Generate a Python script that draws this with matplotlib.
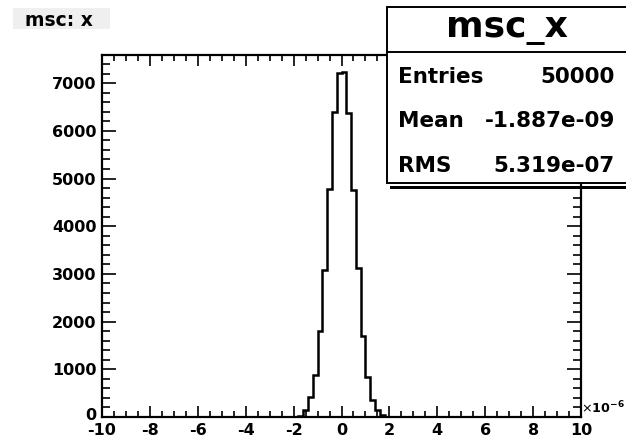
import numpy as np
import matplotlib
matplotlib.use("Agg")
import matplotlib.pyplot as plt
from matplotlib.patches import Rectangle
from matplotlib.lines import Line2D
from matplotlib.ticker import MultipleLocator
from matplotlib.transforms import ScaledTranslation

plt.rcParams['font.family'] = ['DejaVu Sans']
plt.rcParams['axes.unicode_minus'] = False

# ---- data (x in units of 1e-6) ----
bin_edges = [-2.0, -1.8, -1.6, -1.4, -1.2, -1.0, -0.8, -0.6, -0.4, -0.2, 0.0,
             0.2, 0.4, 0.6, 0.8, 1.0, 1.2, 1.4, 1.6, 1.8, 2.0]
counts = [3, 25, 140, 410, 880, 1800, 3080, 4780, 6400, 7220,
          7230, 6380, 4750, 3120, 1690, 845, 360, 150, 40, 8]
x_ticks = [-10, -8, -6, -4, -2, 0, 2, 4, 6, 8, 10]
y_ticks = [0, 1000, 2000, 3000, 4000, 5000, 6000, 7000]
title = "msc: x"
stats_name = "msc_x"
stats_rows = [("Entries", "50000"), ("Mean", "-1.887e-09"), ("RMS", "5.319e-07")]

W, H = 626, 441
fig = plt.figure(figsize=(W / 100, H / 100), dpi=100)
fig.patch.set_facecolor('white')

def fx(px):
    return px / W

def fy(py):
    return 1 - py / H

ax_l, ax_r, ax_t, ax_b = 102, 581, 55, 417
ax = fig.add_axes([fx(ax_l), fy(ax_b), fx(ax_r) - fx(ax_l), fy(ax_t) - fy(ax_b)])
ax.stairs(counts, bin_edges, color='black', linewidth=1.8)
ax.set_xlim(-10, 10)
ax.set_ylim(0, 7590)
ax.set_xticks(x_ticks)
ax.set_xticklabels([str(v) for v in x_ticks])
ax.set_yticks(y_ticks)
ax.set_yticklabels([str(v) for v in y_ticks])
ax.xaxis.set_minor_locator(MultipleLocator(0.5))
ax.yaxis.set_minor_locator(MultipleLocator(200))
for s in ax.spines.values():
    s.set_linewidth(1.6)
ax.tick_params(which='both', direction='in', top=True, right=True, width=1.2)
ax.tick_params(axis='x', which='major', length=8, pad=4.5, labelsize=11.5)
ax.tick_params(axis='x', which='minor', length=4)
ax.tick_params(axis='y', which='major', length=10, pad=4, labelsize=11.5)
ax.tick_params(axis='y', which='minor', length=6)
for lab in ax.get_xticklabels() + ax.get_yticklabels():
    lab.set_fontweight('bold')
zero_lab = ax.get_yticklabels()[0]
zero_lab.set_transform(zero_lab.get_transform() +
                       ScaledTranslation(0, 3.5 / 100, fig.dpi_scale_trans))

fig.text(fx(581), fy(413), r'$\times\mathbf{10^{-6}}$', fontsize=9.2,
         ha='left', va='baseline')

# title box
fig.patches.append(Rectangle((fx(13), fy(29)), fx(110) - fx(13), fy(8) - fy(29),
                             transform=fig.transFigure, facecolor='#efefef',
                             edgecolor='none', zorder=5))
fig.text(fx(25), fy(26.5), title, fontsize=13.5, fontweight='bold',
         ha='left', va='baseline', zorder=6)

# stats box
bx0, by0, by1 = 387, 7, 183
fig.patches.append(Rectangle((fx(390), fy(189)), 1.0, fy(186) - fy(189),
                             transform=fig.transFigure, facecolor='black',
                             edgecolor='none', zorder=9))
fig.patches.append(Rectangle((fx(bx0), fy(by1)), 1.0, fy(by0) - fy(by1),
                             transform=fig.transFigure, facecolor='white',
                             edgecolor='black', linewidth=1.4, zorder=10))
fig.lines.append(Line2D([fx(bx0), 1.0], [fy(52), fy(52)], transform=fig.transFigure,
                        color='black', linewidth=1.4, zorder=11))
fig.text(fx(507), fy(37), stats_name, fontsize=26, fontweight='bold',
         ha='center', va='baseline', zorder=12)
baselines = [83, 127, 172]
for (k, v), b in zip(stats_rows, baselines):
    fig.text(fx(398), fy(b), k, fontsize=15.5, fontweight='bold',
             ha='left', va='baseline', zorder=12)
    fig.text(fx(615), fy(b), v, fontsize=15.5, fontweight='bold',
             ha='right', va='baseline', zorder=12)

fig.savefig('out.png', dpi=100)
